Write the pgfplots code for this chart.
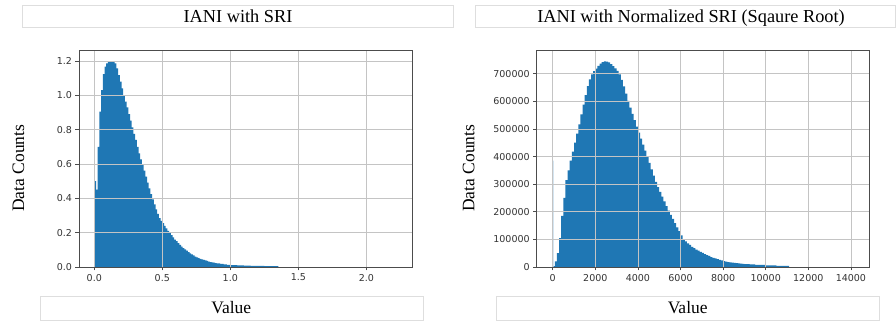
\documentclass[border=0pt]{standalone}
\usepackage{fontspec}
\setmainfont{Liberation Serif}
\newfontfamily\dejavu{DejaVu Sans}
\usepackage{pgfplots}
\pgfplotsset{compat=1.18}
\definecolor{c1}{HTML}{1F77B4}
\definecolor{gridc}{HTML}{C4C4C4}
\pgfplotsset{mystyle/.style={
  scale only axis, axis on top, grid=major,
  grid style={gridc, line width=0.8pt},
  axis line style={black!70, line width=0.8pt},
  tick style={black!70, line width=0.8pt},
  tick align=outside, major tick length=3.5pt,
  xtick pos=left, ytick pos=left, ymin=0,
  ticklabel style={font=\dejavu\fontsize{9.5}{11}\selectfont, text=black!80},
  scaled ticks=false}}
\begin{document}
\begin{tikzpicture}
\path[use as bounding box] (0,0) rectangle (896pt,321pt);
% decorative boxes
\draw[black!13, line width=0.6pt] (22pt,294pt) rectangle (453pt,316pt);
\draw[black!13, line width=0.6pt] (475pt,294pt) rectangle (895.5pt,316pt);
\draw[black!13, line width=0.6pt] (40pt,1pt) rectangle (423pt,25pt);
\draw[black!13, line width=0.6pt] (496pt,1pt) rectangle (879pt,25pt);

\begin{axis}[mystyle, at={(79pt,54pt)}, anchor=south west,
  width=333pt, height=217pt,
  xmin=-0.1125, xmax=2.336, ymax=1.264,
  xtick={0,0.5,1,1.5,2}, xticklabels={0.0,0.5,1.0,1.5,2.0},
  ytick={0,0.2,0.4,0.6,0.8,1.0,1.2}, yticklabels={0.0,0.2,0.4,0.6,0.8,1.0,1.2}]
\addplot[const plot, fill=c1, draw=none] coordinates {
(0,0.50) (0.0125,0.45) (0.025,0.70) (0.0375,0.905) (0.05,1.03) (0.0625,1.124)
(0.075,1.167) (0.0875,1.186) (0.1,1.196) (0.1125,1.199) (0.125,1.199) (0.1375,1.195)
(0.15,1.186) (0.1625,1.157) (0.175,1.118) (0.1875,1.08) (0.2,1.04) (0.2125,1.00)
(0.225,0.963) (0.2375,0.93) (0.25,0.891) (0.2625,0.852) (0.275,0.813) (0.2875,0.775)
(0.3,0.74) (0.3125,0.70) (0.325,0.662) (0.3375,0.627) (0.35,0.594) (0.3625,0.561)
(0.375,0.526) (0.3875,0.491) (0.4,0.458) (0.4125,0.425) (0.425,0.394) (0.4375,0.365)
(0.45,0.336) (0.4625,0.309) (0.475,0.284) (0.4875,0.268) (0.5,0.255) (0.5125,0.24)
(0.525,0.225) (0.5375,0.21) (0.55,0.197) (0.5625,0.185) (0.575,0.172) (0.5875,0.16)
(0.6,0.15) (0.6125,0.139) (0.625,0.129) (0.6375,0.119) (0.65,0.11) (0.6625,0.102)
(0.675,0.095) (0.6875,0.087) (0.7,0.080) (0.7125,0.073) (0.725,0.067) (0.7375,0.061)
(0.75,0.056) (0.7625,0.052) (0.775,0.048) (0.7875,0.045) (0.8,0.041) (0.8125,0.038)
(0.825,0.035) (0.8375,0.032) (0.85,0.029) (0.8625,0.027) (0.875,0.025) (0.8875,0.023)
(0.9,0.021) (0.925,0.018) (0.95,0.015) (0.975,0.013) (1.0,0.011) (1.05,0.0095)
(1.1,0.008) (1.15,0.007) (1.2,0.006) (1.25,0.005) (1.3,0.0045) (1.353,0)
} \closedcycle;
\node[anchor=south west, inner sep=0pt, font=\dejavu\fontsize{9.5}{11}\selectfont, text=black!80] at (rel axis cs:0,1) [yshift=2.5pt] {1e6};
\node[anchor=north east, inner sep=0pt, font=\dejavu\fontsize{9.5}{11}\selectfont, text=black!80] at (rel axis cs:1,0) [yshift=-21pt, xshift=-2pt] {1e6};
\end{axis}

\begin{axis}[mystyle, at={(536.7pt,54pt)}, anchor=south west,
  width=332.6pt, height=216.3pt,
  xmin=-751, xmax=14864, ymax=783700,
  xtick={0,2000,4000,6000,8000,10000,12000,14000},
  xticklabels={0,2000,4000,6000,8000,10000,12000,14000},
  ytick={0,100000,200000,300000,400000,500000,600000,700000},
  yticklabels={0,100000,200000,300000,400000,500000,600000,700000}]
\addplot[const plot, fill=c1!55, draw=none] coordinates {(0,385000) (30,0)} \closedcycle;
\addplot[const plot, fill=c1, draw=none] coordinates {
(40,3000) (100,20000) (200,50000) (300,105000) (400,185000) (500,250000)
(600,315000) (700,350000) (800,385000) (900,418000) (1000,451000) (1100,483000)
(1200,517000) (1300,553000) (1400,588000) (1500,623000) (1600,655000) (1700,680000)
(1800,698000) (1900,710000) (2000,719000) (2100,729000) (2200,737000) (2300,742000)
(2400,745000) (2500,744000) (2600,741000) (2700,735000) (2800,728000) (2900,720000)
(3000,711000) (3100,698000) (3200,678000) (3300,654000) (3400,628000) (3500,602000)
(3600,577000) (3700,555000) (3800,532000) (3900,509000) (4000,487000) (4100,465000)
(4200,443000) (4300,422000) (4400,400000) (4500,377000) (4600,354000) (4700,331000)
(4800,308000) (4900,289000) (5000,272000) (5100,255000) (5200,238000) (5300,221000)
(5400,204000) (5500,189000) (5600,174000) (5700,159000) (5800,144000) (5900,130000)
(6000,115000) (6100,101000) (6200,93000) (6300,86000) (6400,80000) (6500,73000)
(6600,68000) (6700,63000) (6800,59000) (6900,55000) (7000,51000) (7100,47000)
(7200,43000) (7300,40000) (7400,36000) (7500,33000) (7600,31000) (7700,28500)
(7800,26000) (7900,24000) (8000,21500) (8100,19500) (8200,18000) (8300,17000)
(8400,16000) (8500,15000) (8600,14000) (8700,13000) (8800,12000) (8900,11500)
(9000,10500) (9250,9500) (9500,8000) (10000,6000) (10500,4000) (11100,0)
} \closedcycle;
\end{axis}

\node[anchor=base, font=\fontsize{18.3}{22}\selectfont] at (238pt,298.3pt) {IANI with SRI};
\node[anchor=base, font=\fontsize{18.3}{22}\selectfont] at (691pt,298.3pt) {IANI with Normalized SRI (Sqaure Root)};
\node[anchor=base, font=\fontsize{17.5}{21}\selectfont] at (231.3pt,7pt) {Value};
\node[anchor=base, font=\fontsize{17.5}{21}\selectfont] at (687.7pt,7pt) {Value};
\node[anchor=base, rotate=90, font=\fontsize{17.5}{21}\selectfont] at (24pt,152.7pt) {Data Counts};
\node[anchor=base, rotate=90, font=\fontsize{17.5}{21}\selectfont] at (474.3pt,152.7pt) {Data Counts};
\end{tikzpicture}
\end{document}
